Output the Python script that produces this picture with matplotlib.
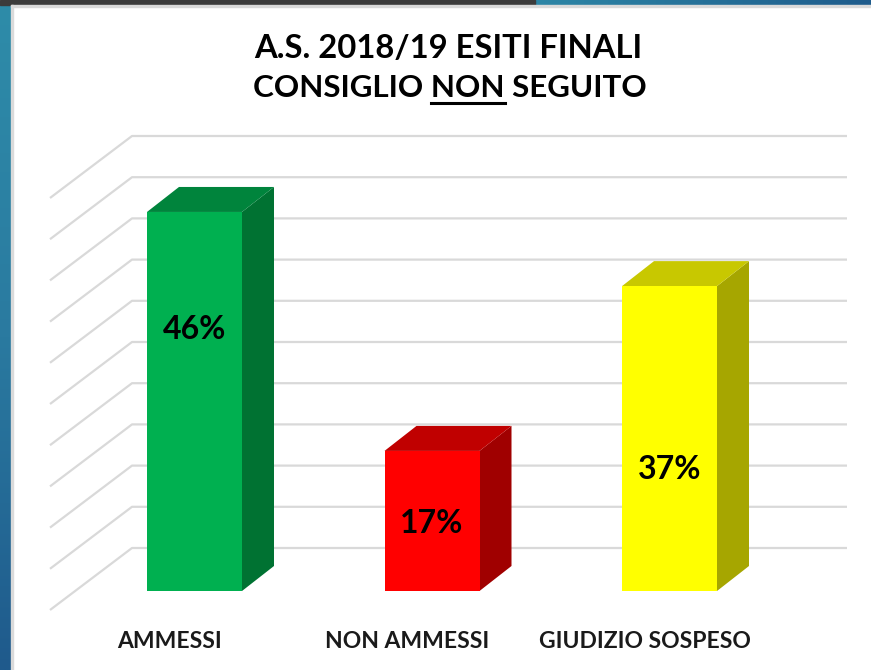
import matplotlib.pyplot as plt
from matplotlib.colors import LinearSegmentedColormap
from matplotlib.lines import Line2D
from matplotlib.patches import Polygon, Rectangle
import numpy as np

categorie = ["AMMESSI", "NON AMMESSI", "GIUDIZIO SOSPESO"]
valori = [46, 17, 37]
etichette = ["46%", "17%", "37%"]
quota_etichette = [31.7, 8.2, 14.7]   # altezza (in %) del testo dentro la barra
griglia = np.arange(0, 55, 5)

col_fronte = ["#00B050", "#FF0000", "#FFFF00"]
col_sopra = ["#00843C", "#C00000", "#C8C800"]
col_lato = ["#007232", "#A00000", "#A6A600"]

plt.rcParams['font.family'] = ['Lato', 'DejaVu Sans']

W, H = 871, 670
fig = plt.figure(figsize=(W / 100, H / 100), dpi=100)

# cornice della slide: barra in alto e striscia blu a sinistra
fig.patches.append(Rectangle((0, 1 - 5 / H), 535 / W, 5 / H, transform=fig.transFigure,
                             color="#3C3C3C", zorder=0))
ax_top = fig.add_axes([535 / W, 1 - 5 / H, 1 - 535 / W, 5 / H])
ax_top.imshow(np.linspace(0, 1, 256).reshape(1, -1), aspect="auto",
              cmap=LinearSegmentedColormap.from_list("t", ["#2D86A6", "#1F5C8C"]))
ax_top.axis("off")
ax_side = fig.add_axes([0, 0, 11 / W, 1 - 5 / H])
ax_side.imshow(np.linspace(0, 1, 256).reshape(-1, 1), aspect="auto",
               cmap=LinearSegmentedColormap.from_list("s", ["#2E8CA9", "#2A7AA0", "#1F5A8C"]))
ax_side.axis("off")
fig.patches.append(Rectangle((11 / W, 0), 2 / W, 1 - 5 / H, transform=fig.transFigure,
                             color="#DADADA", zorder=1))
fig.patches.append(Rectangle((11 / W, 1 - 7 / H), 1 - 11 / W, 2 / H, transform=fig.transFigure,
                             color="#DADADA", zorder=1))

# area del grafico: x in unita' di categoria, y in punti percentuali
px_x, px_y = 237.5, 8.24          # pixel per unita'
x0_px, y0_px = 194.5, 591         # centro della prima barra, base delle barre
ax_l, ax_r, ax_t, ax_b = 40, 860, 120, 625
ax = fig.add_axes([ax_l / W, 1 - ax_b / H, (ax_r - ax_l) / W, (ax_b - ax_t) / H])
ax.set_xlim((ax_l - x0_px) / px_x, (ax_r - x0_px) / px_x)
ax.set_ylim((y0_px - ax_b) / px_y, (y0_px - ax_t) / px_y)
ax.axis("off")

# parete di fondo e pavimento
wall_dy = 43 / px_y
wall_l = (132 - x0_px) / px_x
wall_r = (847 - x0_px) / px_x
floor_dx, floor_dy = -82 / px_x, -62 / px_y
for g in griglia:
    yb = g + wall_dy
    ax.plot([wall_l + floor_dx, wall_l, wall_r], [yb + floor_dy, yb, yb],
            color="#D9D9D9", lw=1.6, zorder=1, solid_capstyle="butt")

# barre 3D
bw = 95 / px_x
dep_x, dep_y = 32 / px_x, 25 / px_y
cat_dx = -25 / px_x   # le etichette stanno sul bordo anteriore del pavimento
for i, v in enumerate(valori):
    l, r = i - bw / 2, i + bw / 2
    ax.add_patch(Polygon([(r, 0), (r + dep_x, dep_y), (r + dep_x, v + dep_y), (r, v)],
                         closed=True, fc=col_lato[i], ec="none", zorder=3))
    ax.add_patch(Polygon([(l, v), (r, v), (r + dep_x, v + dep_y), (l + dep_x, v + dep_y)],
                         closed=True, fc=col_sopra[i], ec="none", zorder=3))
    ax.add_patch(Rectangle((l, 0), bw, v, fc=col_fronte[i], ec="none", zorder=4))
    ax.text(i, quota_etichette[i], etichette[i], ha="center", va="center",
            fontsize=23, fontweight="bold", color="black", zorder=5)
    ax.text(i + cat_dx, (y0_px - 642) / px_y, categorie[i], ha="center", va="center",
            fontsize=16.5, fontweight="bold", color="#1A1A1A", zorder=5)

# titolo su due righe, con "NON" sottolineato
fig.text(448 / W, 1 - 49 / H, "A.S. 2018/19 ESITI FINALI", ha="center", va="center",
         fontsize=23.6, fontweight="bold", color="black")
tkw = dict(fontsize=22.6, fontweight="bold", color="black")
riga2 = fig.text(450 / W, 1 - 88 / H, "CONSIGLIO NON SEGUITO", ha="center", va="center", **tkw)

rend = fig.canvas.get_renderer()
def larghezza(s):
    t = fig.text(0, 0, s, **tkw)
    w = t.get_window_extent(rend).width
    t.remove()
    return w

bb = riga2.get_window_extent(rend)
x_a = bb.x0 + larghezza("CONSIGLIO ")
x_b = bb.x0 + larghezza("CONSIGLIO NON")
y_u = (H - 88 - 15) / H
fig.lines.append(Line2D([x_a / W, x_b / W], [y_u, y_u], transform=fig.transFigure,
                        color="black", lw=2.2))

fig.savefig("out.png", dpi=100)
